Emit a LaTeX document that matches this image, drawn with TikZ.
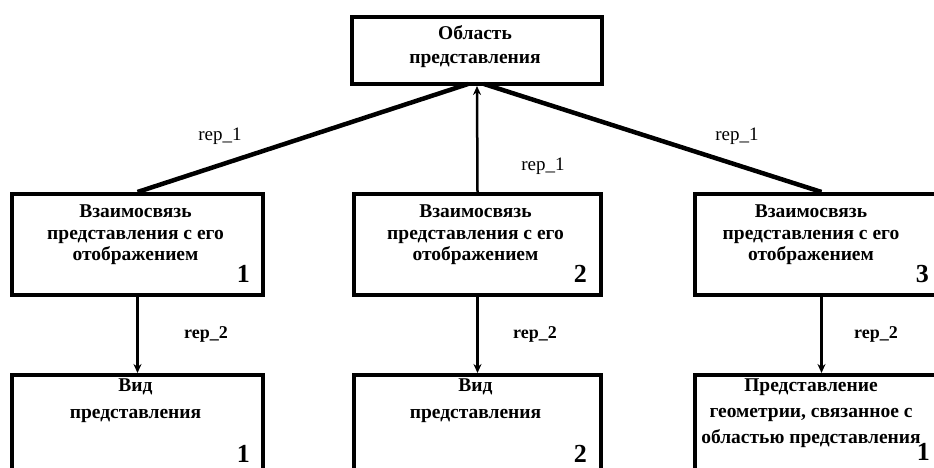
\documentclass[tikz,border=0pt]{standalone}
\usepackage{fontspec}
\setmainfont{Liberation Serif}
\usetikzlibrary{arrows.meta}

\begin{document}
\begin{tikzpicture}[x=1pt,y=-1pt,
  box/.style={draw, line width=4pt, anchor=north west, inner sep=0pt},
  boxtext/.style={font=\bfseries\fontsize{19.5}{#1}\selectfont, align=center, anchor=north, inner sep=0pt},
  boxnum/.style={font=\bfseries\fontsize{26}{26}\selectfont, anchor=base east, inner sep=0pt},
  rellabel/.style={font=\fontsize{19}{19}\selectfont, anchor=base, inner sep=0pt},
  rellabelb/.style={font=\bfseries\fontsize{18}{18}\selectfont, anchor=base, inner sep=0pt},
  link/.style={line width=4.5pt},
  feed/.style={line width=2.5pt, -{Stealth[length=9pt,width=8pt]}}]

\useasboundingbox (0,0) rectangle (934,467);
\clip (0,0) rectangle (934,467);

% boxes
\node[box, minimum width=250, minimum height=67] (top) at (350,15) {};
\node[box, minimum width=251, minimum height=101] (m1) at (10,192) {};
\node[box, minimum width=247, minimum height=101] (m2) at (352,192) {};
\node[box, minimum width=253, minimum height=101] (m3) at (693,192) {};
\node[box, minimum width=251, minimum height=110] (b1) at (10,373) {};
\node[box, minimum width=247, minimum height=110] (b2) at (352,373) {};
\node[box, minimum width=253, minimum height=110] (b3) at (693,373) {};

% box texts
\node[boxtext=24] (ttop) at (475,25) {Область\\представления};
\node[boxtext=21.5] (tm1) at (135.5,205) {Взаимосвязь\\представления с его\\отображением};
\node[boxtext=21.5] (tm2) at (475.5,205) {Взаимосвязь\\представления с его\\отображением};
\node[boxtext=21.5] (tm3) at (811,205) {Взаимосвязь\\представления с его\\отображением};
\node[boxtext=27] (tb1) at (135.5,379) {Вид\\представления};
\node[boxtext=27] (tb2) at (475.5,379) {Вид\\представления};
\node[boxtext=26] (tb3) at (811,379) {Представление\\геометрии, связанное с\\областью представления};

% numbers
\node[boxnum] (n1) at (250,282) {1};
\node[boxnum] (n2) at (587,282) {2};
\node[boxnum] (n3) at (929,282) {3};
\node[boxnum] (n4) at (250,462) {1};
\node[boxnum] (n5) at (587,462) {2};
\node[boxnum] (n6) at (930,460) {1};

% connectors to the upper box
\coordinate (tl) at (468,84);
\coordinate (tr) at (484,84);
\draw[link] (m1.north) -- (tl);
\draw[link] (m3.north) -- (tr);
\draw[feed] (m2.north) -- (top.south);

% connectors to the lower boxes
\draw[feed] (m1.south) -- (b1.north);
\draw[feed] (m2.south) -- (b2.north);
\draw[feed] (m3.south) -- (b3.north);

% relation labels
\node[rellabel] (r1) at (220,140) {rep\_1};
\node[rellabel] (r2) at (543,170) {rep\_1};
\node[rellabel] (r3) at (737,140) {rep\_1};
\node[rellabelb] (r4) at (206,338) {rep\_2};
\node[rellabelb] (r5) at (535,338) {rep\_2};
\node[rellabelb] (r6) at (876,338) {rep\_2};
\end{tikzpicture}
\end{document}
